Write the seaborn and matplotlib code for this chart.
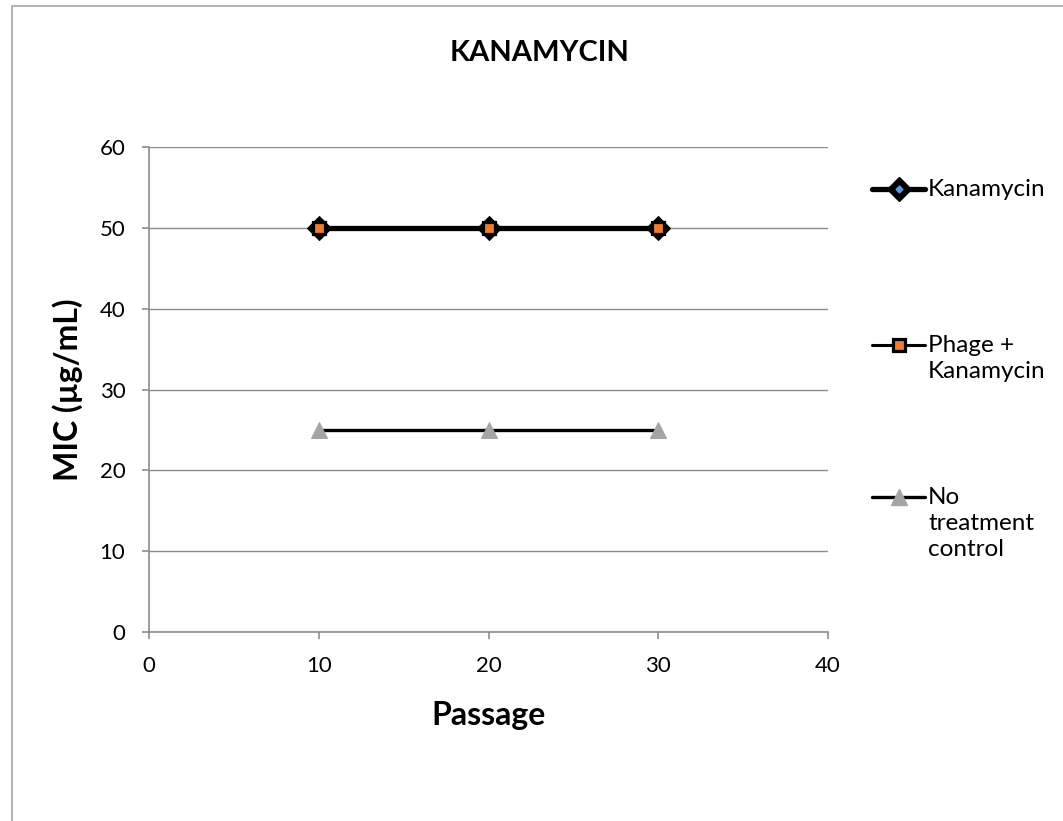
import matplotlib
matplotlib.use("Agg")
import matplotlib.pyplot as plt
from matplotlib.patches import Rectangle
from matplotlib.lines import Line2D
from matplotlib.legend_handler import HandlerTuple
import seaborn as sns
import pandas as pd

# Data
passage = [10, 20, 30]
kanamycin = [50, 50, 50]
phage_kanamycin = [50, 50, 50]
no_treatment = [25, 25, 25]
series_labels = ["Kanamycin", "Phage +\nKanamycin", "No\ntreatment\ncontrol"]
x_ticks = [0, 10, 20, 30, 40]
y_ticks = [0, 10, 20, 30, 40, 50, 60]

sns.set_theme(style="white")
plt.rcParams["font.family"] = ["Lato", "DejaVu Sans"]
plt.rcParams["text.color"] = "black"
plt.rcParams["axes.labelcolor"] = "black"

GREY = "#8C8C8C"
fig = plt.figure(figsize=(10.63, 8.21), dpi=100)
ax = fig.add_axes([0.1402, 0.2302, 0.6387, 0.5907])

# Chart-area frame
fig.patches.append(Rectangle((0.0113, -0.5), 1.5, 1.4927, transform=fig.transFigure,
                             fill=False, edgecolor="#A6A6A6", linewidth=1.2, zorder=0))

df_k = pd.DataFrame({"Passage": passage, "MIC": kanamycin})
df_p = pd.DataFrame({"Passage": passage, "MIC": phage_kanamycin})
df_n = pd.DataFrame({"Passage": passage, "MIC": no_treatment})

k_style = dict(color="black", linewidth=3.8, marker="D", markersize=12,
               markerfacecolor="black", markeredgecolor="black")
p_style = dict(color="black", linewidth=2.2, marker="s", markersize=8.5,
               markerfacecolor="#ED7D31", markeredgecolor="black", markeredgewidth=2.3)
n_style = dict(color="black", linewidth=2.4, marker="^", markersize=12,
               markerfacecolor="#A5A5A5", markeredgecolor="#A5A5A5")

sns.lineplot(data=df_k, x="Passage", y="MIC", ax=ax, zorder=3, **k_style)
sns.lineplot(data=df_p, x="Passage", y="MIC", ax=ax, zorder=4, **p_style)
sns.lineplot(data=df_n, x="Passage", y="MIC", ax=ax, zorder=3, **n_style)

ax.set_xlim(0, 40)
ax.set_ylim(0, 60)
ax.set_xticks(x_ticks)
ax.set_yticks(y_ticks)
ax.grid(axis="y", color=GREY, linewidth=1.0)
ax.set_axisbelow(True)
for side in ["top", "right"]:
    ax.spines[side].set_visible(False)
for side in ["left", "bottom"]:
    ax.spines[side].set_color(GREY)
    ax.spines[side].set_linewidth(1.2)
ax.tick_params(axis="both", which="major", direction="out", length=5, width=1.2,
               color=GREY, labelsize=16, labelcolor="black", pad=12,
               bottom=True, left=True)

ax.set_xlabel("Passage", fontsize=23, fontweight="bold", labelpad=18, color="black")
ax.set_ylabel("MIC (µg/mL)", fontsize=23, fontweight="bold", labelpad=12, color="black")
fig.text(0.5075, 0.936, "KANAMYCIN", fontsize=21, fontweight="bold",
         ha="center", va="center", color="black")

# Legend entries, one block per series, marker beside the first text line
h_k = (Line2D([], [], **k_style),
       Line2D([], [], linestyle="none", marker="D", markersize=3.5,
              markerfacecolor="#5B9BD5", markeredgecolor="#5B9BD5"))
h_p = Line2D([], [], **p_style)
h_n = Line2D([], [], **n_style)

anchors = [0.7966, 0.6066, 0.4214]
for handle, label, y in zip([h_k, h_p, h_n], series_labels, anchors):
    leg = fig.legend([handle], [label], loc="upper left", bbox_to_anchor=(0.809, y),
                     frameon=False, fontsize=17.5, handlelength=2.18, handletextpad=0.12,
                     borderpad=0, handleheight=1.0, labelcolor="black",
                     handler_map={tuple: HandlerTuple(ndivide=1, pad=0)})
    for t in leg.get_texts():
        t.set_linespacing(1.3)
    for column in leg._legend_handle_box.get_children():
        for row in column.get_children():
            row.align = "top"

fig.savefig("out.png", dpi=100)
